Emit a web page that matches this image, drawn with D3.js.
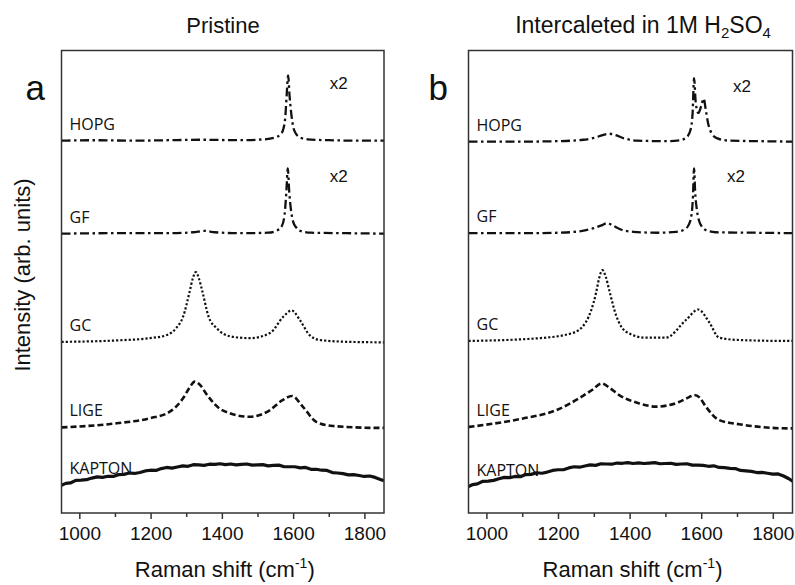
<!DOCTYPE html>
<html>
<head>
<meta charset="utf-8">
<script src="https://cdn.jsdelivr.net/npm/d3@7"></script>
<style>
  body { margin: 0; background: #fff; }
  svg { display: block; }
  text { fill: #111; }
</style>
</head>
<body>
<div id="chart"></div>
<script>
//Dados: [Raman shift (cm-1), intensidade (u.a.)]
var xTicks = [1000, 1200, 1400, 1600, 1800];
var xMinorTicks = [1100, 1300, 1500, 1700];
var sampleNames = ["HOPG", "GF", "GC", "LIGE", "KAPTON"];
var panelLetters = ["a", "b"];

//Painel a - Pristine
var hopgPristine = [[950,80.5],[1050,80.6],[1150,80.5],[1250,80.6],[1350,80.7],[1450,80.6],[1520,80.8],[1550,81.2],[1565,81.9],[1572,82.9],[1578,85.6],[1582,90.5],[1586,94.6],[1590,90.2],[1595,86.2],[1600,83.6],[1608,82.0],[1620,81.2],[1640,80.8],[1700,80.6],[1800,80.5],[1855,80.5]];
var gfPristine = [[950,60.4],[1100,60.5],[1250,60.5],[1320,60.7],[1350,61.0],[1380,60.7],[1450,60.5],[1530,60.6],[1555,61.1],[1568,62.0],[1576,64.5],[1581,69.5],[1585,74.5],[1589,69.5],[1594,65.5],[1600,63.0],[1608,61.8],[1620,61.0],[1650,60.6],[1750,60.5],[1855,60.4]];
var gcPristine = [[950,37.0],[1100,37.3],[1198,37.8],[1243,38.4],[1272,40.0],[1291,42.4],[1310,48.0],[1318,50.6],[1327,52.1],[1336,50.6],[1345,48.0],[1363,42.4],[1385,40.0],[1423,38.2],[1479,37.8],[1535,38.9],[1572,42.4],[1596,43.8],[1619,41.7],[1647,38.4],[1675,37.4],[1759,37.0],[1855,36.9]];
var ligePristine = [[950,18.5],[1105,19.4],[1198,20.5],[1254,21.9],[1291,24.8],[1310,27.2],[1324,28.4],[1340,27.6],[1355,25.9],[1402,22.2],[1478,20.8],[1534,22.2],[1570,24.4],[1597,25.3],[1627,23.0],[1665,19.7],[1712,18.8],[1843,18.4],[1855,18.4]];
var kaptonPristine = [[950,6.0],[962,6.4],[975,6.5],[990,7.05],[1005,7.1],[1020,7.2],[1035,7.55],[1050,7.8],[1065,7.7],[1080,7.95],[1095,7.9],[1110,8.3],[1125,8.35],[1140,8.65],[1155,8.55],[1170,8.75],[1185,9.1],[1200,9.25],[1215,9.2],[1230,9.6],[1245,9.85],[1260,9.7],[1275,9.95],[1290,10.2],[1305,10.1],[1320,10.45],[1335,10.4],[1350,10.3],[1365,10.55],[1380,10.5],[1395,10.65],[1410,10.45],[1425,10.6],[1440,10.4],[1455,10.5],[1470,10.6],[1485,10.35],[1500,10.4],[1515,10.45],[1530,10.2],[1545,10.3],[1560,10.35],[1575,10.0],[1590,10.0],[1605,10.0],[1620,9.75],[1635,9.85],[1650,9.45],[1665,9.45],[1680,9.25],[1695,9.2],[1710,8.75],[1725,8.65],[1740,8.5],[1755,8.25],[1770,8.3],[1785,8.1],[1800,7.9],[1815,8.0],[1830,7.7],[1845,7.25],[1855,7.0]];

//Painel b - Intercalado em 1M H2SO4
var hopgIntercal = [[950,80.3],[1100,80.3],[1200,80.4],[1270,80.7],[1300,81.1],[1325,81.7],[1343,82.0],[1360,81.7],[1385,81.0],[1420,80.5],[1500,80.4],[1540,80.6],[1560,81.3],[1570,82.8],[1576,86.5],[1580,94.0],[1585,88.5],[1592,86.5],[1600,88.0],[1607,89.6],[1613,87.0],[1620,84.0],[1630,82.0],[1645,81.0],[1680,80.5],[1760,80.4],[1855,80.3]];
var gfIntercal = [[950,60.5],[1100,60.5],[1200,60.6],[1260,60.9],[1300,61.6],[1325,62.3],[1338,62.7],[1352,62.2],[1375,61.3],[1410,60.8],[1480,60.6],[1530,60.8],[1553,61.3],[1565,62.3],[1572,64.0],[1577,68.5],[1580,74.5],[1583,69.5],[1588,65.5],[1594,63.2],[1602,61.9],[1615,61.1],[1640,60.7],[1750,60.6],[1855,60.5]];
var gcIntercal = [[950,37.2],[1148,37.8],[1240,38.9],[1278,41.3],[1306,47.5],[1315,50.8],[1324,52.5],[1333,51.2],[1343,48.2],[1362,42.8],[1390,39.2],[1445,37.9],[1501,37.9],[1557,41.7],[1592,44.0],[1622,41.3],[1650,37.9],[1706,37.4],[1845,37.2],[1855,37.2]];
var ligeIntercal = [[950,18.6],[1100,20.4],[1194,22.2],[1259,24.8],[1295,26.6],[1322,28.0],[1345,27.0],[1371,25.5],[1427,23.7],[1473,23.0],[1538,24.0],[1565,25.0],[1580,25.5],[1595,25.0],[1613,23.0],[1650,20.1],[1706,19.2],[1845,18.3],[1855,18.3]];
var kaptonIntercal = [[950,5.7],[962,6.15],[975,6.3],[990,6.85],[1005,6.9],[1020,7.05],[1035,7.4],[1050,7.7],[1065,7.65],[1080,7.9],[1095,7.85],[1110,8.3],[1125,8.35],[1140,8.7],[1155,8.6],[1170,8.85],[1185,9.2],[1200,9.35],[1215,9.35],[1230,9.75],[1245,10.0],[1260,9.9],[1275,10.15],[1290,10.4],[1305,10.3],[1320,10.65],[1335,10.6],[1350,10.55],[1365,10.8],[1380,10.75],[1395,10.9],[1410,10.7],[1425,10.85],[1440,10.7],[1455,10.8],[1470,10.9],[1485,10.65],[1500,10.7],[1515,10.75],[1530,10.5],[1545,10.6],[1560,10.65],[1575,10.35],[1590,10.35],[1605,10.3],[1620,10.1],[1635,10.2],[1650,9.85],[1665,9.8],[1680,9.65],[1695,9.6],[1710,9.2],[1725,9.1],[1740,9.0],[1755,8.75],[1770,8.8],[1785,8.6],[1800,8.4],[1815,8.45],[1830,8.0],[1845,7.4],[1855,6.9]];

(function () {
	'use strict';
	var W = 795, H = 585;
	var top = 50.5, bottom = 513;
	var panels = [
		{ letter: panelLetters[0], left: 61.5, right: 384, title: "Pristine", titleX: 223,
		  series: [hopgPristine, gfPristine, gcPristine, ligePristine, kaptonPristine],
		  x2: [1728, 1728] },
		{ letter: panelLetters[1], left: 468.5, right: 792.5, title: null, titleX: 643,
		  series: [hopgIntercal, gfIntercal, gcIntercal, ligeIntercal, kaptonIntercal],
		  x2: [1714, 1697] }
	];
	//Estilos das linhas
	var styles = [
		{ dash: "9,3.5,2.5,3.5", width: 2.3, curve: d3.curveMonotoneX },
		{ dash: "9,3.5,2.5,3.5", width: 2.3, curve: d3.curveMonotoneX },
		{ dash: "2.2,2", width: 2.2, curve: d3.curveMonotoneX },
		{ dash: "6,3", width: 2.6, curve: d3.curveMonotoneX },
		{ dash: null, width: 3.2, curve: d3.curveLinear }
	];

	var svg = d3.select("#chart").append("svg")
		.attr("width", W).attr("height", H);

	var y = d3.scaleLinear().domain([0, 100]).range([bottom, top]);

	panels.forEach(function (p, i) {
		var x = d3.scaleLinear().domain([950, 1855]).range([p.left, p.right]);
		var g = svg.append("g");

		g.append("defs").append("clipPath").attr("id", "clip" + i)
			.append("rect")
			.attr("x", p.left).attr("y", top)
			.attr("width", p.right - p.left).attr("height", bottom - top);

		//Linhas
		var lines = g.append("g").attr("clip-path", "url(#clip" + i + ")");
		p.series.forEach(function (s, k) {
			var st = styles[k];
			var line = d3.line()
				.x(function (d) { return x(d[0]); })
				.y(function (d) { return y(d[1]); })
				.curve(st.curve);
			lines.append("path")
				.datum(s)
				.attr("fill", "none")
				.attr("stroke", "#111")
				.attr("stroke-width", st.width)
				.attr("stroke-dasharray", st.dash)
				.attr("stroke-linejoin", "round")
				.attr("d", line);
		});

		//Nomes das amostras
		p.series.forEach(function (s, k) {
			g.append("text")
				.attr("x", p.left + 8)
				.attr("y", y(s[0][1]) - 11)
				.style("font-family", "'Open Sans', sans-serif")
				.style("font-size", "16px")
				.text(sampleNames[k]);
		});

		//x2
		[0, 1].forEach(function (k) {
			var s = p.series[k];
			g.append("text")
				.attr("x", x(p.x2[k]))
				.attr("y", y(d3.max(s, function (d) { return d[1]; })) + 14)
				.attr("text-anchor", "middle")
				.style("font-family", "'Liberation Sans', Arial, sans-serif")
				.style("font-size", "17px")
				.text("x2");
		});

		//Moldura
		g.append("rect")
			.attr("x", p.left).attr("y", top)
			.attr("width", p.right - p.left).attr("height", bottom - top)
			.attr("fill", "none").attr("stroke", "#333").attr("stroke-width", 1.5);

		//Eixo x
		var axis = g.append("g")
			.attr("transform", "translate(0," + bottom + ")")
			.call(d3.axisBottom(x).tickValues(xTicks).tickSize(6).tickPadding(8).tickFormat(d3.format("d")));
		axis.select(".domain").remove();
		axis.selectAll("line").attr("stroke", "#333").attr("stroke-width", 1.5);
		axis.selectAll("text")
			.style("font-family", "'Liberation Sans', Arial, sans-serif")
			.style("font-size", "19px")
			.attr("fill", "#111");
		g.append("g")
			.attr("transform", "translate(0," + bottom + ")")
			.call(d3.axisBottom(x).tickValues(xMinorTicks).tickSize(4).tickFormat(""))
			.call(function (a) {
				a.select(".domain").remove();
				a.selectAll("line").attr("stroke", "#333").attr("stroke-width", 1.5);
			});

		//Titulo do eixo x
		var xt = g.append("text")
			.attr("x", (p.left + p.right) / 2 + 2)
			.attr("y", 577)
			.attr("text-anchor", "middle")
			.style("font-family", "'Liberation Sans', Arial, sans-serif")
			.style("font-size", "22px");
		xt.append("tspan").text("Raman shift (cm");
		xt.append("tspan").attr("dy", -9).style("font-size", "14px").text("-1");
		xt.append("tspan").attr("dy", 9).text(")");

		//Letra do painel
		g.append("text")
			.attr("x", p.left - 36 - (i ? 4 : 0))
			.attr("y", 100)
			.style("font-family", "'Liberation Sans', Arial, sans-serif")
			.style("font-size", "35px")
			.text(p.letter);

		//Titulo do painel
		var tt = g.append("text")
			.attr("x", p.titleX)
			.attr("y", 33)
			.attr("text-anchor", "middle")
			.style("font-family", "'Liberation Sans', Arial, sans-serif")
			.style("font-size", "22px");
		if (p.title) {
			tt.text(p.title);
		} else {
			tt.style("font-size", "23px");
			tt.append("tspan").text("Intercaleted in 1M H");
			tt.append("tspan").attr("dy", 5).style("font-size", "15px").text("2");
			tt.append("tspan").attr("dy", -5).text("SO");
			tt.append("tspan").attr("dy", 5).style("font-size", "15px").text("4");
		}
	});

	//Titulo do eixo y
	svg.append("text")
		.attr("transform", "translate(30,275) rotate(-90)")
		.attr("text-anchor", "middle")
		.style("font-family", "'Liberation Sans', Arial, sans-serif")
		.style("font-size", "22px")
		.text("Intensity (arb. units)");
}());
</script>
</body>
</html>
